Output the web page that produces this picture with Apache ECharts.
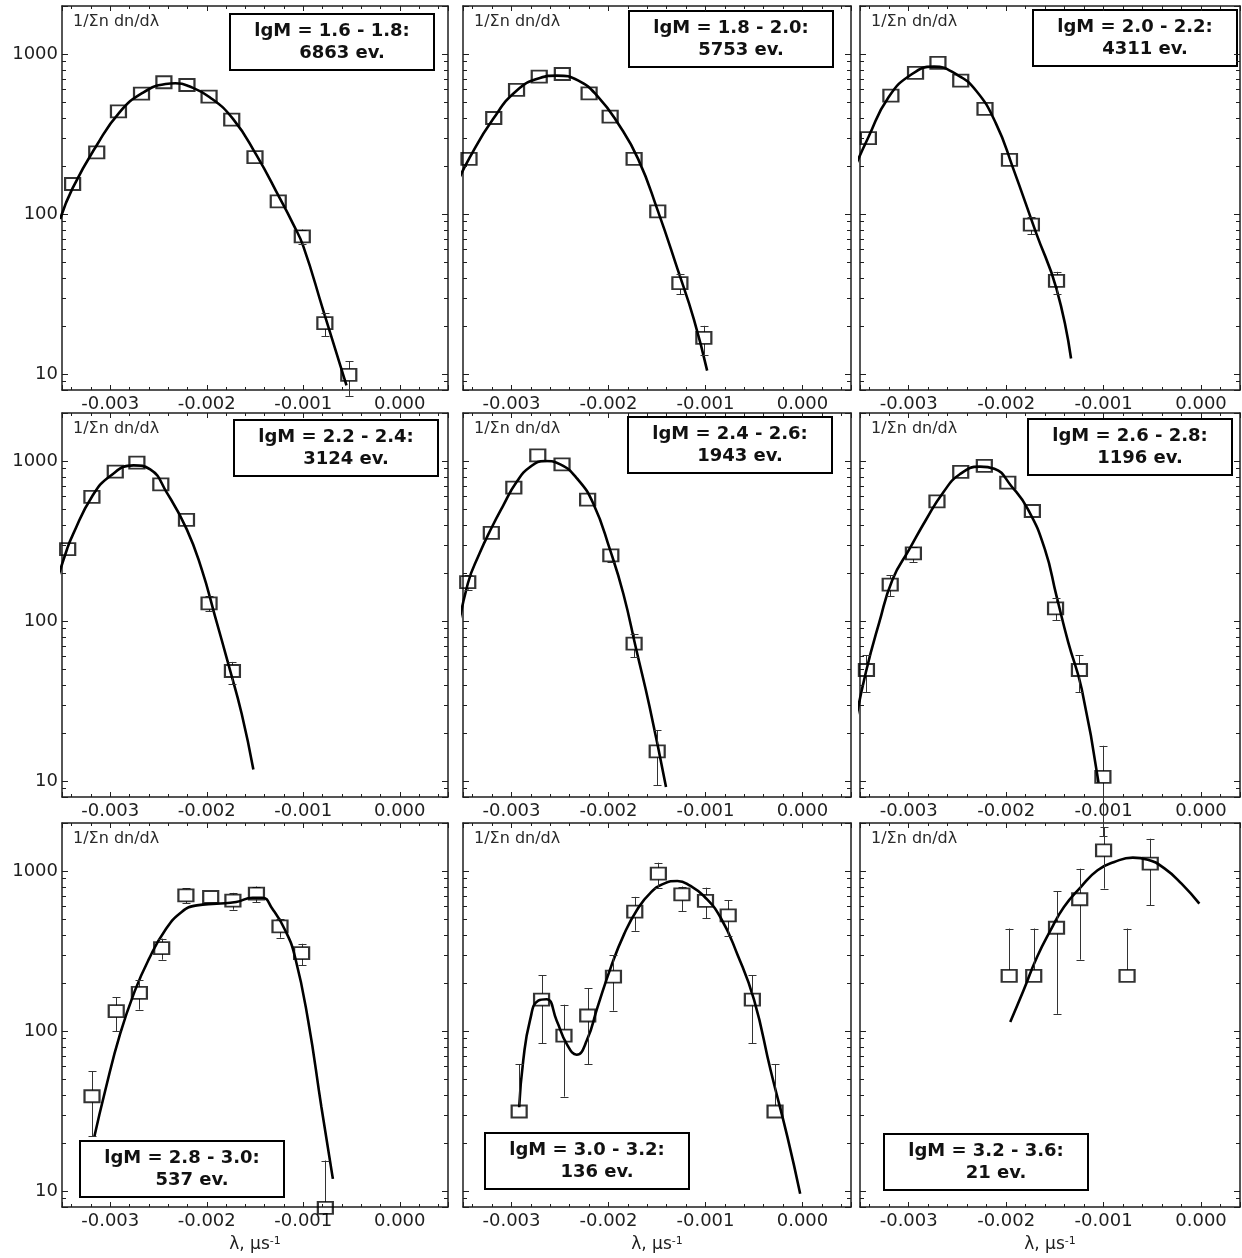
<!DOCTYPE html>
<html>
<head>
<meta charset="utf-8">
<script src="https://cdn.jsdelivr.net/npm/echarts@6.0.0/dist/echarts.min.js"></script>
<style>html,body{margin:0;padding:0;background:#fff}#c{width:1242px;height:1258px}</style>
</head>
<body>
<div id="c"></div>
<script>
// ---------------- data ----------------
const xTickValues = [-0.003, -0.002, -0.001, 0];
const xTickLabels = ['-0.003', '-0.002', '-0.001', '0.000'];
const yTickValues = [10, 100, 1000];
const yTickLabels = ['10', '100', '1000'];
const yMinorTicks = [9, 20, 30, 40, 50, 60, 70, 80, 90, 200, 300, 400, 500, 600, 700, 800, 900];
const yAxisLabel = '1/\u03A3n dn/d\u03BB';
const xAxisTitle = '\u03BB, \u03BCs{sup|-1}';
const panelRanges = ['lgM = 1.6 - 1.8:', 'lgM = 1.8 - 2.0:', 'lgM = 2.0 - 2.2:', 'lgM = 2.2 - 2.4:', 'lgM = 2.4 - 2.6:', 'lgM = 2.6 - 2.8:', 'lgM = 2.8 - 3.0:', 'lgM = 3.0 - 3.2:', 'lgM = 3.2 - 3.6:'];
const panelEvents = ['6863 ev.', '5753 ev.', '4311 ev.', '3124 ev.', '1943 ev.', '1196 ev.', '537 ev.', '136 ev.', '21 ev.'];

// panel 1  (lgM 1.6-1.8)
const p1Pts = [[-0.00339,154],[-0.00314,243],[-0.002915,438],[-0.002676,565],[-0.002444,666],[-0.002205,640],[-0.001976,541],[-0.001741,389],[-0.0015,227],[-0.001259,120],[-0.00101,72.4],[-0.000776,20.8],[-0.000528,9.86]];
const p1Err = [[146,162],[232,254],[420,456],[545,585],[645,687],[620,660],[522,560],[372,406],[214,240],[111,129],[65,80],[17.2,24],[7.3,12]];
const p1Fit = [[-0.003519,93],[-0.00339,145],[-0.00314,269],[-0.002904,432],[-0.002666,571],[-0.002427,649],[-0.002324,656],[-0.00219,631],[-0.001969,537],[-0.001728,393],[-0.001486,234],[-0.001245,126],[-0.001107,87],[-0.001,63],[-0.000793,25],[-0.000552,8.5]];
// panel 2  (lgM 1.8-2.0)
const p2Pts = [[-0.003438,221],[-0.003183,398],[-0.002948,596],[-0.002714,722],[-0.002476,750],[-0.0022,568],[-0.001983,406],[-0.001736,221],[-0.001492,104],[-0.001264,37],[-0.001017,16.8]];
const p2Err = [[210,232],[384,412],[578,614],[700,744],[728,772],[550,586],[390,422],[208,234],[96,112],[31.6,42.2],[13.2,20]];
const p2Fit = [[-0.00357,152],[-0.00343,226],[-0.00319,392],[-0.002948,590],[-0.002707,708],[-0.002534,733],[-0.00231,681],[-0.002103,536],[-0.001898,365],[-0.001695,221],[-0.001492,105],[-0.001288,45.2],[-0.001119,21.9],[-0.000983,10.5]];
// panel 3  (lgM 2.0-2.2)
const p3Pts = [[-0.003414,298],[-0.003183,549],[-0.00293,761],[-0.0027,879],[-0.002466,682],[-0.002217,454],[-0.001966,218],[-0.001741,85.8],[-0.001483,38.2]];
const p3Err = [[284,312],[530,568],[738,784],[852,906],[660,704],[436,472],[205,231],[75,96],[31.8,43.5]];
const p3Fit = [[-0.00356,192],[-0.003414,302],[-0.003207,537],[-0.002966,750],[-0.002741,834],[-0.002517,750],[-0.00231,591],[-0.002103,366],[-0.001931,195],[-0.00169,75.4],[-0.001483,34],[-0.001334,12.5]];
// panel 4  (lgM 2.2-2.4)
const p4Pts = [[-0.003441,281],[-0.00319,596],[-0.002948,858],[-0.002724,976],[-0.002476,715],[-0.00221,428],[-0.001976,129],[-0.001734,48.7]];
const p4Err = [[268,294],[576,616],[830,886],[945,1007],[692,738],[410,446],[115.5,143],[40.2,55.5]];
const p4Fit = [[-0.00357,165],[-0.003448,281],[-0.003386,348],[-0.00319,598],[-0.003,806],[-0.002759,939],[-0.002586,887],[-0.002414,634],[-0.002207,374],[-0.002052,210],[-0.001914,107],[-0.001776,53.7],[-0.001638,26.3],[-0.001517,11.8]];
// panel 5  (lgM 2.4-2.6)
const p5Pts = [[-0.003451,175],[-0.003208,355],[-0.002976,681],[-0.002729,1084],[-0.002479,953],[-0.002215,573],[-0.001976,257],[-0.001736,72.1],[-0.001498,15.3]];
const p5Err = [[157,193],[338,372],[655,707],[1050,1118],[922,984],[553,593],[234,280],[59.6,83.4],[9.4,20.7]];
const p5Fit = [[-0.00358,71.1],[-0.003451,171],[-0.00333,264],[-0.003208,380],[-0.003087,525],[-0.002948,739],[-0.002809,917],[-0.002653,1000],[-0.002497,953],[-0.002323,776],[-0.002156,541],[-0.001983,277],[-0.001847,148],[-0.001712,65.6],[-0.001576,29],[-0.001407,9.17]];
// panel 6  (lgM 2.6-2.8)
const p6Pts = [[-0.003434,49.4],[-0.00319,169],[-0.002952,265],[-0.00271,560],[-0.002466,854],[-0.002224,931],[-0.001983,732],[-0.001731,487],[-0.001493,120],[-0.001248,49.4],[-0.001007,10.6]];
const p6Err = [[36,61.3],[143,193],[234,290],[535,585],[825,883],[900,962],[705,759],[465,509],[101,139],[36,61.3],[4.5,16.6]];
const p6Fit = [[-0.003552,22.6],[-0.003441,47.5],[-0.003303,97.6],[-0.003166,182],[-0.002993,281],[-0.002821,431],[-0.002648,634],[-0.002476,826],[-0.002269,922],[-0.002121,895],[-0.001948,698],[-0.001776,499],[-0.001603,281],[-0.001483,143],[-0.001362,73.3],[-0.001224,37.4],[-0.001052,9.77]];
// panel 7  (lgM 2.8-3.0)
const p7Pts = [[-0.003189,39.1],[-0.002938,133],[-0.002698,173],[-0.002467,330],[-0.002216,705],[-0.001959,688],[-0.001729,653],[-0.001485,722],[-0.001241,451],[-0.001017,307],[-0.000771,7.84]];
const p7Err = [[22,56.2],[100,163],[136,207],[279,378],[631,780],[640,740],[573,730],[640,800],[383,504],[257,351],[7.84,15.5]];
const p7Fit = [[-0.003165,21.8],[-0.003052,42.5],[-0.002897,96.2],[-0.002742,180],[-0.002605,277],[-0.002433,425],[-0.00226,555],[-0.002103,610],[-0.001898,625],[-0.001695,640],[-0.001525,681],[-0.001424,681],[-0.001322,582],[-0.001186,425],[-0.001085,290],[-0.000949,116],[-0.000812,33.5],[-0.000693,11.9]];
// panel 8  (lgM 3.0-3.2)
const p8Pts = [[-0.002921,31.4],[-0.00269,157],[-0.002459,93.6],[-0.002214,125],[-0.001949,219],[-0.001729,558],[-0.001486,962],[-0.001243,714],[-0.001,650],[-0.000766,528],[-0.000517,157],[-0.000283,31.4]];
const p8Err = [[31.4,62.2],[84.1,223],[38.9,146],[62.2,185],[134,298],[423,689],[787,1127],[562,800],[507,787],[393,656],[84.1,223],[31.4,62.2]];
const p8Fit = [[-0.002921,33.4],[-0.002879,65.3],[-0.00281,116],[-0.002724,155],[-0.002638,158],[-0.002534,116],[-0.002431,83],[-0.002328,71.1],[-0.002224,87.1],[-0.002113,141],[-0.001976,250],[-0.001839,403],[-0.001702,577],[-0.001565,733],[-0.001428,834],[-0.00129,866],[-0.001154,806],[-0.001017,698],[-0.000845,512],[-0.000672,302],[-0.0005,157],[-0.000328,56.6],[-0.000155,21.7],[-0.000024,9.62]];
// panel 9  (lgM 3.2-3.6)
const p9Pts = [[-0.001969,221],[-0.001717,221],[-0.001483,442],[-0.001245,666],[-0.001,1346],[-0.000759,221],[-0.000521,1111]];
const p9Err = [[221,437],[221,437],[128,747],[279,1034],[776,1884],[221,437],[610,1592]];
const p9Fit = [[-0.001958,114],[-0.001821,180],[-0.001683,290],[-0.001545,425],[-0.001407,596],[-0.001234,794],[-0.001062,1010],[-0.00089,1138],[-0.0007,1212],[-0.000545,1177],[-0.000372,1034],[-0.0002,833],[-0.000017,625]];

const panels = [
  {pts: p1Pts, err: p1Err, fit: p1Fit}, {pts: p2Pts, err: p2Err, fit: p2Fit}, {pts: p3Pts, err: p3Err, fit: p3Fit},
  {pts: p4Pts, err: p4Err, fit: p4Fit}, {pts: p5Pts, err: p5Err, fit: p5Fit}, {pts: p6Pts, err: p6Err, fit: p6Fit},
  {pts: p7Pts, err: p7Err, fit: p7Fit}, {pts: p8Pts, err: p8Err, fit: p8Fit}, {pts: p9Pts, err: p9Err, fit: p9Fit}
];

// ---------------- layout ----------------
const X_MIN = -0.0035;
const Y_MIN = 7.943, Y_MAX = 1995.3;
const cols = [{left: 62, width: 386, xmax: 0.0005}, {left: 463, width: 388, xmax: 0.0005}, {left: 860, width: 380, xmax: 0.0004}];
const rows = [6, 413, 823];
const H = 384;
const boxPos = [[229,13],[628,10],[1032,9],[233,419],[627,416],[1027,418],[79,1140],[484,1132],[883,1133]];
const BOX_W = 204, BOX_H = 56;
const FONT = 'DejaVu Sans';
const INK = '#1e1e1e';

function xFmt(v) {
  const k = xTickValues.findIndex(t => Math.abs(t - v) < 1e-9);
  return k >= 0 ? xTickLabels[k] : '';
}
function yFmt(v) {
  const l = Math.log10(v), r = Math.round(l);
  if (Math.abs(l - r) > 1e-6) return '';
  const k = yTickValues.indexOf(Math.pow(10, r));
  return k >= 0 ? yTickLabels[k] : '';
}

const grid = [], xAxis = [], yAxis = [], series = [], graphic = [];
panels.forEach((p, i) => {
  const r = Math.floor(i / 3), c = i % 3;
  const xmax = cols[c].xmax;
  grid.push({left: cols[c].left, top: rows[r], width: cols[c].width, height: H, outerBoundsMode: 'none', containLabel: false});
  const axisLine = {show: true, onZero: false, lineStyle: {color: INK, width: 1.5}};
  const xCommon = {
    type: 'value', gridIndex: i, min: X_MIN, max: xmax, splitNumber: 4,
    axisLine: axisLine,
    axisTick: {show: true, inside: true, length: 5, lineStyle: {color: INK, width: 1}},
    minorTick: {show: true, splitNumber: 5, length: 3, lineStyle: {color: INK, width: 1}},
    splitLine: {show: false}, minorSplitLine: {show: false}
  };
  xAxis.push(Object.assign({}, xCommon, {
    position: 'bottom',
    axisLabel: {show: true, margin: 5, formatter: xFmt, color: INK, fontFamily: FONT, fontSize: 18, showMinLabel: true, showMaxLabel: true, hideOverlap: false},
    name: r === 2 ? xAxisTitle : '', nameLocation: 'middle', nameGap: 29,
    nameTextStyle: {color: INK, fontFamily: FONT, fontSize: 17, rich: {sup: {fontSize: 11, fontFamily: FONT, color: INK, verticalAlign: 'top', lineHeight: 11}}}
  }));
  xAxis.push(Object.assign({}, xCommon, {position: 'top', axisLabel: {show: false}}));
  const yCommon = {
    type: 'log', logBase: 10, gridIndex: i, min: Y_MIN, max: Y_MAX,
    axisLine: axisLine,
    axisTick: {show: true, inside: true, length: 6, lineStyle: {color: INK, width: 1}},
    splitLine: {show: false}, minorTick: {show: false}
  };
  yAxis.push(Object.assign({}, yCommon, {
    position: 'left',
    axisLabel: {show: c === 0, margin: 4, formatter: yFmt, color: INK, fontFamily: FONT, fontSize: 18, hideOverlap: false}
  }));
  yAxis.push(Object.assign({}, yCommon, {position: 'right', axisLabel: {show: false}}));

  const xi = 2 * i, yi = 2 * i;
  // minor log ticks on both vertical edges
  series.push({
    type: 'custom', xAxisIndex: xi, yAxisIndex: yi, silent: true, z: 5, clip: false,
    data: yMinorTicks.map(v => [X_MIN, v]), encode: {x: 0, y: 1},
    renderItem: function (params, api) {
      const v = api.value(1);
      const a = api.coord([X_MIN, v]), b = api.coord([xmax, v]);
      const y = Math.round(a[1]) + 0.5;
      return {type: 'group', children: [
        {type: 'line', shape: {x1: a[0], y1: y, x2: a[0] + 4, y2: y}, style: {stroke: INK, lineWidth: 1}},
        {type: 'line', shape: {x1: b[0] - 4, y1: y, x2: b[0], y2: y}, style: {stroke: INK, lineWidth: 1}}
      ]};
    }
  });
  // fitted curve
  series.push({
    type: 'line', xAxisIndex: xi, yAxisIndex: yi, data: p.fit, smooth: 0.5, symbol: 'none', showSymbol: false,
    lineStyle: {color: '#000', width: 2.6}, clip: false, z: 2, silent: true
  });
  // error bars
  series.push({
    type: 'custom', xAxisIndex: xi, yAxisIndex: yi, silent: true, z: 3, clip: false,
    data: p.pts.map((pt, k) => [pt[0], p.err[k][0], p.err[k][1], pt[1]]), encode: {x: 0, y: 3},
    renderItem: function (params, api) {
      const x = api.value(0), lo = api.value(1), hi = api.value(2), v = api.value(3);
      const c0 = api.coord([x, v]), t = api.coord([x, hi]), b = api.coord([x, lo]);
      const px = Math.round(c0[0]) + 0.5, half = 6, cap = 4;
      const ch = [];
      const st = {stroke: '#333', lineWidth: 1};
      if (t[1] < c0[1] - half) {
        ch.push({type: 'line', shape: {x1: px, y1: t[1], x2: px, y2: c0[1] - half}, style: st});
        ch.push({type: 'line', shape: {x1: px - cap, y1: Math.round(t[1]) + 0.5, x2: px + cap, y2: Math.round(t[1]) + 0.5}, style: st});
      }
      if (b[1] > c0[1] + half) {
        ch.push({type: 'line', shape: {x1: px, y1: c0[1] + half, x2: px, y2: b[1]}, style: st});
        ch.push({type: 'line', shape: {x1: px - cap, y1: Math.round(b[1]) + 0.5, x2: px + cap, y2: Math.round(b[1]) + 0.5}, style: st});
      }
      return {type: 'group', children: ch};
    }
  });
  // data points
  series.push({
    type: 'scatter', xAxisIndex: xi, yAxisIndex: yi, data: p.pts, symbol: 'rect', symbolSize: [15, 12],
    itemStyle: {color: 'rgba(255,255,255,0)', borderColor: '#000', borderWidth: 2}, clip: false, z: 4, silent: true
  });

  // panel texts
  graphic.push({
    type: 'text', left: cols[c].left + 11, top: rows[r] + 8, z: 20, silent: true,
    style: {text: yAxisLabel, font: '16px "' + FONT + '"', fill: '#2a2a2a'}
  });
  const bx = boxPos[i][0], by = boxPos[i][1];
  graphic.push({
    type: 'group', left: bx, top: by, z: 20, silent: true,
    children: [
      {type: 'rect', shape: {x: 0, y: 0, width: BOX_W, height: BOX_H}, style: {fill: '#fff', stroke: '#000', lineWidth: 2}},
      {type: 'text', x: BOX_W / 2, y: 17, style: {text: panelRanges[i], font: 'bold 18px "' + FONT + '"', fill: '#111', textAlign: 'center', textVerticalAlign: 'middle', align: 'center', verticalAlign: 'middle'}},
      {type: 'text', x: BOX_W / 2 + 10, y: 39, style: {text: panelEvents[i], font: 'bold 18px "' + FONT + '"', fill: '#111', textAlign: 'center', textVerticalAlign: 'middle', align: 'center', verticalAlign: 'middle'}}
    ]
  });
});

const chart = echarts.init(document.getElementById('c'), null, {renderer: 'canvas'});
chart.setOption({
  animation: false,
  backgroundColor: '#fff',
  grid: grid, xAxis: xAxis, yAxis: yAxis, series: series, graphic: graphic
});
</script>
</body>
</html>
